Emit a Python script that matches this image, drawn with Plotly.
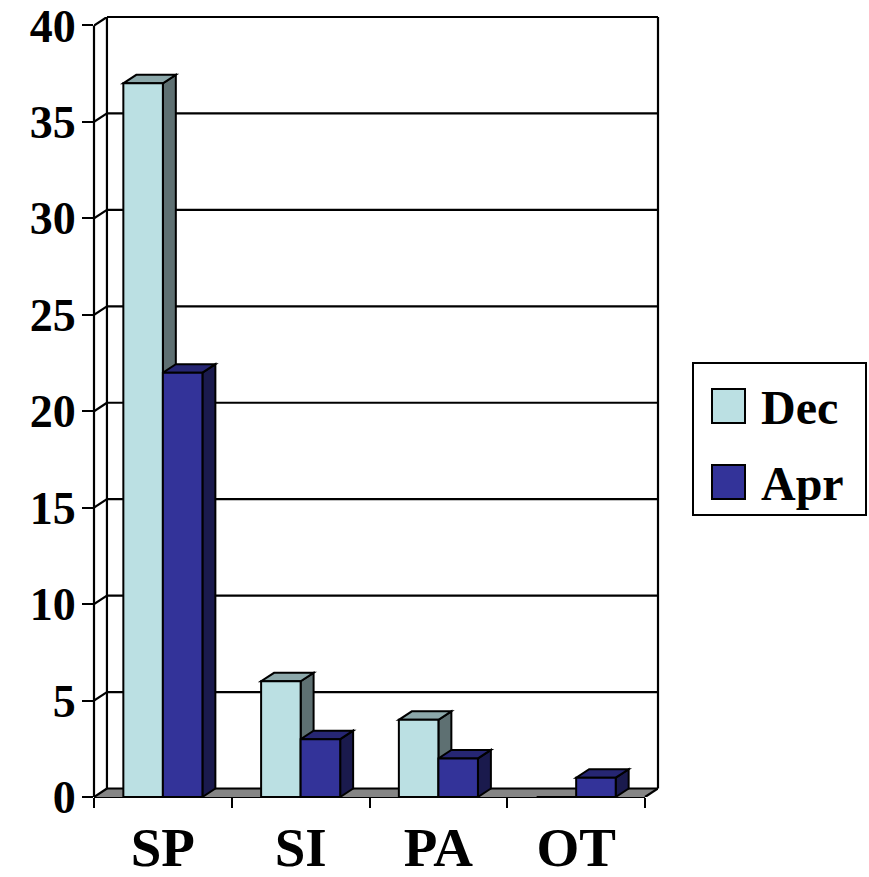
import plotly.graph_objects as go

# ---- data ----
categories = ["SP", "SI", "PA", "OT"]
series_names = ["Dec", "Apr"]
dec_values = [37, 6, 4, 0]
apr_values = [22, 3, 2, 1]
y_tick_values = [0, 5, 10, 15, 20, 25, 30, 35, 40]

# ---- layout constants ----
W, H = 869, 877
ML, MR, MT, MB = 94, 211, 17, 80
BARGAP = 0.426
DX = 0.094      # depth of the 3-D box, in category units
DY = 0.44       # depth of the 3-D box, in value units
Y_MAX = 40
FONT = "Liberation Serif, Times New Roman, serif"

front_color = {"Dec": "#BBE0E3", "Apr": "#333399"}
side_color = {"Dec": "#5E7072", "Apr": "#1A1A4D"}
top_color = {"Dec": "#8CA8AA", "Apr": "#262673"}

n = len(categories)
x_lo, x_hi = -0.5, n - 0.5

fig = go.Figure()
for name, vals in zip(series_names, [dec_values, apr_values]):
    fig.add_trace(go.Bar(
        x=categories, y=vals, name=name,
        marker=dict(color=front_color[name], line=dict(color="black", width=2)),
        showlegend=False,
    ))

shapes = []
LW = 2.2

# floor of the box
shapes.append(dict(
    type="path", xref="x", yref="y", layer="below",
    path=f"M {x_lo},0 L {x_hi},0 L {x_hi + DX},{DY} L {x_lo + DX},{DY} Z",
    fillcolor="#858585", line=dict(width=0),
))
# back-wall gridlines and their connectors to the front axis
for v in y_tick_values:
    if v == Y_MAX:
        shapes.append(dict(type="line", xref="x", yref="paper", layer="below",
                           x0=x_lo + DX, x1=x_hi + DX, y0=1, y1=1,
                           line=dict(color="black", width=LW)))
    else:
        shapes.append(dict(type="line", xref="x", yref="y", layer="below",
                           x0=x_lo + DX, x1=x_hi + DX, y0=v + DY, y1=v + DY,
                           line=dict(color="black", width=LW)))
    shapes.append(dict(type="line", xref="x", yref="y", layer="below",
                       x0=x_lo, x1=x_lo + DX, y0=v, y1=v + DY,
                       line=dict(color="black", width=LW)))
# back wall verticals
shapes.append(dict(type="line", xref="x", yref="y", layer="below",
                   x0=x_lo + DX, x1=x_lo + DX, y0=DY, y1=Y_MAX + DY,
                   line=dict(color="black", width=LW)))
shapes.append(dict(type="line", xref="paper", yref="y", layer="below",
                   x0=1, x1=1, y0=DY, y1=Y_MAX + DY,
                   line=dict(color="black", width=LW)))
# front edges of the floor and the value axis
shapes.append(dict(type="line", xref="x", yref="paper", layer="below",
                   x0=x_lo, x1=x_hi, y0=0, y1=0,
                   line=dict(color="black", width=LW)))
shapes.append(dict(type="line", xref="x", yref="y", layer="below",
                   x0=x_hi, x1=x_hi + DX, y0=0, y1=DY,
                   line=dict(color="black", width=LW)))
shapes.append(dict(type="line", xref="paper", yref="y", layer="below",
                   x0=0, x1=0, y0=0, y1=Y_MAX,
                   line=dict(color="black", width=LW)))

# top and side faces of every bar
bar_w = (1 - BARGAP) / 2
for s, (name, vals) in enumerate(zip(series_names, [dec_values, apr_values])):
    for i, v in enumerate(vals):
        if v <= 0:
            continue
        x0 = i - bar_w + s * bar_w
        x1 = x0 + bar_w
        shapes.append(dict(
            type="path", xref="x", yref="y", layer="below",
            path=f"M {x1},0 L {x1},{v} L {x1 + DX},{v + DY} L {x1 + DX},{DY} Z",
            fillcolor=side_color[name], line=dict(color="black", width=2),
        ))
        shapes.append(dict(
            type="path", xref="x", yref="y", layer="below",
            path=f"M {x0},{v} L {x1},{v} L {x1 + DX},{v + DY} L {x0 + DX},{v + DY} Z",
            fillcolor=top_color[name], line=dict(color="black", width=2),
        ))

# legend box drawn in page pixels
PW = W - ML - MR
PH = H - MT - MB


def px(xp):
    return (xp - ML) / PW


def py(yp):
    return (H - MB - yp) / PH


shapes.append(dict(type="rect", xref="paper", yref="paper", layer="above",
                   x0=px(693), x1=px(866), y0=py(363), y1=py(515),
                   fillcolor="white", line=dict(color="black", width=2)))
annotations = []
for k, name in enumerate(series_names):
    yc = 406 + k * 76
    shapes.append(dict(type="rect", xref="paper", yref="paper", layer="above",
                       x0=px(712), x1=px(745), y0=py(yc - 17), y1=py(yc + 17),
                       fillcolor=front_color[name], line=dict(color="black", width=2)))
    annotations.append(dict(text=name, xref="paper", yref="paper",
                            x=px(759), y=py(yc + 1), xanchor="left", yanchor="middle",
                            showarrow=False,
                            font=dict(family=FONT, size=48, color="black", weight="bold")))

fig.update_layout(
    width=W, height=H,
    margin=dict(l=ML, r=MR, t=MT, b=MB, pad=0, autoexpand=False),
    paper_bgcolor="white", plot_bgcolor="white",
    barmode="group", bargap=BARGAP, bargroupgap=0,
    shapes=shapes, annotations=annotations,
    showlegend=False,
    xaxis=dict(
        type="category", range=[x_lo, x_hi + DX], automargin=False,
        tickson="boundaries", ticks="outside", ticklen=10, tickwidth=2, tickcolor="black",
        showline=False, showgrid=False, zeroline=False,
        ticklabelstandoff=13, ticklabeloverflow="allow",
        tickfont=dict(family=FONT, size=55, color="black", weight="bold"),
    ),
    yaxis=dict(
        range=[0, Y_MAX + DY], tickvals=y_tick_values, automargin=False,
        ticks="outside", ticklen=11, tickwidth=2, tickcolor="black",
        showline=False, showgrid=False, zeroline=False,
        ticklabelstandoff=-3, ticklabeloverflow="allow",
        tickfont=dict(family=FONT, size=46, color="black", weight="bold"),
    ),
)

fig.write_html("out.html")
